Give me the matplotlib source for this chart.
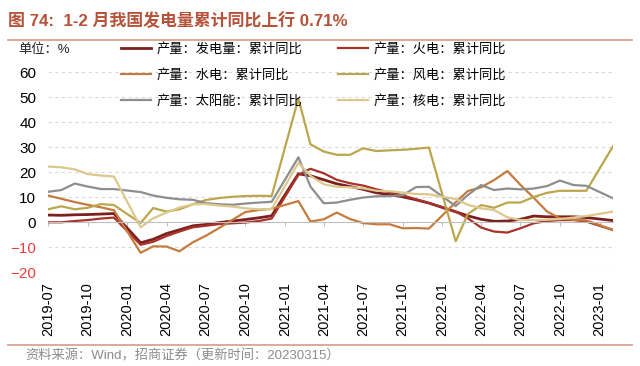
import pandas as pd
import matplotlib.pyplot as plt
import matplotlib.dates as mdates
from matplotlib.lines import Line2D

plt.rcParams["font.family"] = ["Liberation Sans", "Noto Sans CJK SC"]

# 1-2月合并发布，每年1月无数据
months = [p.strftime("%Y-%m") for p in pd.period_range("2019-07", "2023-02", freq="M") if p.month != 1]

total = [2.9, 2.8, 3.0, 3.1, 3.3, 3.5,
         -8.2, -6.8, -4.5, -3.0, -1.4, -0.9, -0.1, 0.5, 1.1, 1.8, 2.6,
         19.4, 18.6, 17.0, 15.4, 14.3, 13.2, 11.8, 11.1, 10.2, 9.0, 7.7,
         4.2, 2.6, 1.2, 0.4, 0.5, 1.2, 2.5, 2.2, 2.2, 2.2, 1.9,
         0.7]
thermal = [0.0, 0.0, 0.5, 0.9, 1.5, 1.9,
           -9.0, -7.8, -5.5, -3.7, -2.0, -1.4, -0.7, -0.4, -0.1, 0.5, 1.5,
           19.0, 21.4, 19.6, 17.0, 15.6, 14.7, 13.2, 12.0, 10.8, 9.2, 7.7,
           4.3, 1.6, -2.1, -3.7, -4.1, -2.4, -0.4, 0.5, 0.9, 0.9, 0.3,
           -3.1]
hydro = [10.7, 9.4, 8.1, 7.0, 6.0, 4.8,
         -12.2, -9.6, -9.7, -11.6, -8.0, -5.4, -2.3, 1.0, 4.1, 4.9, 5.4,
         8.5, 0.3, 1.2, 3.9, 1.3, -0.3, -0.8, -0.8, -2.4, -2.3, -2.5,
         8.0, 12.5, 14.0, 16.9, 20.5, 15.0, 9.8, 4.3, 1.6, 1.0, 0.8,
         -3.0]
wind = [5.2, 6.4, 5.2, 5.8, 7.3, 6.9,
        -0.3, 5.7, 4.3, 5.2, 7.2, 8.9, 9.7, 10.2, 10.5, 10.6, 10.5,
        49.5, 31.2, 28.3, 27.0, 27.0, 29.6, 28.5, 28.8, 29.0, 29.4, 29.9,
        -7.6, 3.3, 6.9, 5.8, 7.9, 7.9, 10.1, 11.8, 12.6, 12.6, 12.6,
        30.4]
solar = [12.2, 12.9, 15.5, 14.3, 13.3, 13.3,
         12.1, 10.7, 9.8, 9.2, 9.0, 7.7, 7.2, 7.0, 7.5, 7.9, 8.2,
         26.0, 14.3, 7.6, 7.9, 9.0, 9.9, 10.4, 10.5, 10.8, 14.1, 14.2,
         6.5, 10.9, 14.9, 12.9, 13.5, 13.2, 13.5, 14.5, 16.7, 14.9, 14.6,
         9.6]
nuclear = [22.3, 22.0, 21.2, 19.3, 18.7, 18.3,
           -2.0, 1.6, 3.9, 5.9, 7.2, 7.3, 6.7, 6.3, 5.6, 5.2, 5.3,
           23.8, 18.6, 15.2, 14.2, 14.0, 13.6, 12.6, 12.4, 11.9, 11.3, 11.2,
           9.3, 7.0, 5.6, 4.9, 2.0, 0.9, 0.9, 1.0, 1.3, 1.9, 2.5,
           4.3]

series = [
    ("产量：发电量：累计同比", total, "#7B1F1F", 2.0),
    ("产量：火电：累计同比", thermal, "#A8322A", 1.6),
    ("产量：水电：累计同比", hydro, "#C57B3E", 1.6),
    ("产量：风电：累计同比", wind, "#BCA64C", 1.6),
    ("产量：太阳能：累计同比", solar, "#8E8E8E", 1.6),
    ("产量：核电：累计同比", nuclear, "#DCC88C", 1.6),
]

TITLE_COLOR = "#B5533A"
LINE_COLOR = "#D9A48C"
AXIS_GRAY = "#BFBFBF"

dates = pd.to_datetime(months, format="%Y-%m")

fig = plt.figure(figsize=(6.4, 3.66), dpi=100)
ax = fig.add_axes([48 / 640, 1 - 272.3 / 366, 565 / 640, 200 / 366])

lines = {}
for label, vals, color, lw in series:
    ln, = ax.plot(dates, vals, color=color, lw=lw, label=label, solid_joinstyle="round")
    lines[label] = ln

ax.set_xlim(dates[0], dates[-1])
ax.set_ylim(-20, 60)
ax.set_yticks(range(-20, 61, 10))
ax.tick_params(axis="y", length=0, pad=8.5, labelsize=11)
for t in ax.get_yticklabels():
    if t.get_text().startswith(("-", "−")):
        t.set_color("#E8413B")

for y in range(-20, 61, 10):
    if y != 0:
        ax.axhline(y, color="#D9D9D9", lw=0.8, ls=(0, (3, 3)), zorder=0)

ticks = pd.date_range("2019-07-01", "2023-01-01", freq="3MS")
ax.set_xticks(ticks)
ax.tick_params(axis="x", labelbottom=False, length=3, color=AXIS_GRAY, width=0.8, direction="out")
ax.spines["bottom"].set_position(("data", 0))
ax.spines["bottom"].set_color(AXIS_GRAY)
ax.spines[["top", "right", "left"]].set_visible(False)

sec = ax.secondary_xaxis("bottom")
sec.set_xticks(mdates.date2num(ticks), labels=[t.strftime("%Y-%m") for t in ticks], rotation=90)
sec.tick_params(length=0, pad=7, labelsize=10.5)
sec.spines["bottom"].set_visible(False)

order = ["产量：发电量：累计同比", "产量：水电：累计同比", "产量：太阳能：累计同比",
         "产量：火电：累计同比", "产量：风电：累计同比", "产量：核电：累计同比"]
ax.legend([lines[k] for k in order], order, ncol=2, loc="upper left",
          bbox_to_anchor=(121 / 640, 1 - 42.5 / 366), bbox_transform=fig.transFigure,
          frameon=False, fontsize=9.5, handlelength=2.3, handletextpad=0.4,
          columnspacing=2.7, labelspacing=1.02, borderpad=0, borderaxespad=0)

fig.text(18 / 640, 1 - 50 / 366, "单位：%", fontsize=9.5, va="center", color="#222222")
fig.text(8 / 640, 1 - 20 / 366, "图 74:  1-2 月我国发电量累计同比上行 0.71%",
         fontsize=12.2, fontweight="bold", color=TITLE_COLOR, va="center")
fig.add_artist(Line2D([8 / 640, 632 / 640], [1 - 40 / 366] * 2, transform=fig.transFigure,
                      color=LINE_COLOR, lw=1.3))
fig.add_artist(Line2D([8 / 640, 632 / 640], [1 - 345 / 366] * 2, transform=fig.transFigure,
                      color=LINE_COLOR, lw=1.3))
fig.text(25 / 640, 1 - 356 / 366, "资料来源：Wind，招商证券（更新时间：20230315）",
         fontsize=9.5, color="#8C8C8C", va="center")

fig.savefig("out.png", dpi=100, facecolor="white")
